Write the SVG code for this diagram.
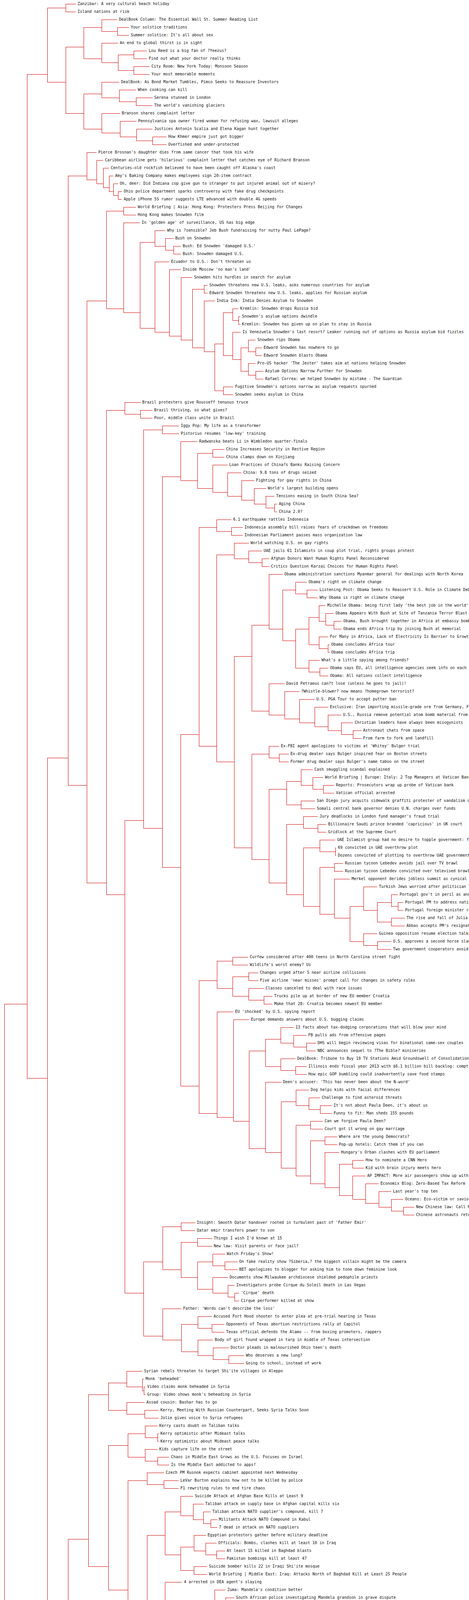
<svg xmlns="http://www.w3.org/2000/svg" width="1200" height="7340" viewBox="0 0 1200 7340">
<style>
.links path{fill:none;stroke:#cc0000;stroke-width:1}
text{font-family:"DejaVu Sans Mono","Liberation Mono",monospace;font-size:10px;fill:#111}
</style>
<rect width="1200" height="7340" fill="#fff"/>
<g id="links" class="links" shape-rendering="crispEdges">
<path d="M69,2570H11V6240H69"/>
<path d="M121,190H69V2760H121"/>
<path d="M168,20H121V210H168"/>
<path d="M194,10H168V30H194"/>
<path d="M214,120H168V290H214"/>
<path d="M260,70H214V150H260"/>
<path d="M300,50H260V80H300"/>
<path d="M330,70H300V90H330"/>
<path d="M302,110H260V160H302"/>
<path d="M342,140H302V180H342"/>
<path d="M376,130H342V150H376"/>
<path d="M383,170H342V190H383"/>
<path d="M260,240H214V330H260"/>
<path d="M305,210H260V250H305"/>
<path d="M348,230H305V260H348"/>
<path d="M390,250H348V270H390"/>
<path d="M307,290H260V340H307"/>
<path d="M349,310H307V350H349"/>
<path d="M390,330H349V360H390"/>
<path d="M426,350H390V370H426"/>
<path d="M174,1940H121V4320H174"/>
<path d="M222,450H174V2010H222"/>
<path d="M247,390H222V460H247"/>
<path d="M264,410H247V470H264"/>
<path d="M279,430H264V480H279"/>
<path d="M290,450H279V490H290"/>
<path d="M302,470H290V500H302"/>
<path d="M312,490H302V510H312"/>
<path d="M272,770H222V2260H272"/>
<path d="M316,540H272V790H316"/>
<path d="M348,530H316V550H348"/>
<path d="M358,570H316V800H358"/>
<path d="M396,620H358V840H396"/>
<path d="M423,590H396V630H423"/>
<path d="M444,610H423V640H444"/>
<path d="M463,630H444V650H463"/>
<path d="M433,670H396V850H433"/>
<path d="M463,690H433V860H463"/>
<path d="M492,710H463V870H492"/>
<path d="M522,740H492V890H522"/>
<path d="M531,730H522V750H531"/>
<path d="M549.5,770H522V900H549.5"/>
<path d="M571,880H549.5V1000H571"/>
<path d="M595,800H571V910H595"/>
<path d="M610,790H595V820H610"/>
<path d="M614.5,810H610V830H614.5"/>
<path d="M616,850H595V920H616"/>
<path d="M635,890H616V950H635"/>
<path d="M654,870H635V900H654"/>
<path d="M670,890H654V910H670"/>
<path d="M654,930H635V960H654"/>
<path d="M674,950H654V970H674"/>
<path d="M597,990H571V1010H597"/>
<path d="M319,1050H272V2290H319"/>
<path d="M359.5,1030H319V1060H359.5"/>
<path d="M390,1050H359.5V1070H390"/>
<path d="M367,2100H319V3310H367"/>
<path d="M415.5,1100H367V2120H415.5"/>
<path d="M458,1090H415.5V1110H458"/>
<path d="M462,1220H415.5V2220H462"/>
<path d="M505,1130H462V1230H505"/>
<path d="M544,1160H505V1250H544"/>
<path d="M574,1150H544V1170H574"/>
<path d="M582,1190H544V1260H582"/>
<path d="M618,1210H582V1270H618"/>
<path d="M650.5,1230H618V1280H650.5"/>
<path d="M680.5,1250H650.5V1290H680.5"/>
<path d="M702,1270H680.5V1300H702"/>
<path d="M709,1290H702V1310H709"/>
<path d="M509,1880H462V2780H509"/>
<path d="M554,1350H509V1910H554"/>
<path d="M592,1330H554V1360H592"/>
<path d="M621,1350H592V1370H621"/>
<path d="M599,1420H554V1950H599"/>
<path d="M636.5,1390H599V1430H636.5"/>
<path d="M670,1410H636.5V1440H670"/>
<path d="M689,1430H670V1450H689"/>
<path d="M644,1680H599V2170H644"/>
<path d="M688,1600H644V1820H688"/>
<path d="M723,1470H688V1610H723"/>
<path d="M756,1510H723V1640H756"/>
<path d="M785,1490H756V1520H785"/>
<path d="M813,1510H785V1530H813"/>
<path d="M790.5,1610H756V1710H790.5"/>
<path d="M816,1580H790.5V1650H816"/>
<path d="M833,1550H816V1590H833"/>
<path d="M854,1570H833V1600H854"/>
<path d="M874,1590H854V1610H874"/>
<path d="M839.5,1630H816V1660H839.5"/>
<path d="M843,1650H839.5V1670H843"/>
<path d="M818,1690H790.5V1720H818"/>
<path d="M840,1710H818V1730H840"/>
<path d="M728,1750H688V1830H728"/>
<path d="M766,1770H728V1840H766"/>
<path d="M805,1790H766V1850H805"/>
<path d="M839.5,1810H805V1860H839.5"/>
<path d="M873,1830H839.5V1870H873"/>
<path d="M903,1850H873V1880H903"/>
<path d="M924.5,1870H903V1890H924.5"/>
<path d="M688,1930H644V2200H688"/>
<path d="M714,1910H688V1940H714"/>
<path d="M738.5,1930H714V1950H738.5"/>
<path d="M733,2020H688V2260H733"/>
<path d="M770,2000H733V2060H770"/>
<path d="M800,1970H770V2010H800"/>
<path d="M827,1990H800V2020H827"/>
<path d="M855,2010H827V2030H855"/>
<path d="M806,2050H770V2070H806"/>
<path d="M776,2110H733V2290H776"/>
<path d="M813,2090H776V2120H813"/>
<path d="M835,2110H813V2130H835"/>
<path d="M818,2170H776V2320H818"/>
<path d="M858,2150H818V2180H858"/>
<path d="M860,2170H858V2190H860"/>
<path d="M855.5,2220H818V2340H855.5"/>
<path d="M878,2210H855.5V2230H878"/>
<path d="M895,2250H855.5V2350H895"/>
<path d="M930,2320H895V2410H930"/>
<path d="M965,2270H930V2330H965"/>
<path d="M1001,2310H965V2360H1001"/>
<path d="M1018,2290H1001V2320H1018"/>
<path d="M1032,2310H1018V2330H1032"/>
<path d="M1035.5,2350H1001V2370H1035.5"/>
<path d="M965,2390H930V2420H965"/>
<path d="M1001,2410H965V2430H1001"/>
<path d="M555,2510H509V2850H555"/>
<path d="M595,2460H555V2530H595"/>
<path d="M634.5,2450H595V2470H634.5"/>
<path d="M636,2500H595V2550H636"/>
<path d="M660.5,2490H636V2510H660.5"/>
<path d="M675,2530H636V2560H675"/>
<path d="M697,2550H675V2570H697"/>
<path d="M597,2590H555V2860H597"/>
<path d="M637.5,2610H597V2870H637.5"/>
<path d="M679,2690H637.5V2940H679"/>
<path d="M718,2660H679V2730H718"/>
<path d="M751.5,2630H718V2670H751.5"/>
<path d="M784,2650H751.5V2680H784"/>
<path d="M808,2670H784V2690H808"/>
<path d="M756,2710H718V2740H756"/>
<path d="M784.5,2730H756V2750H784.5"/>
<path d="M719.5,2770H679V2950H719.5"/>
<path d="M757,2820H719.5V2990H757"/>
<path d="M790.5,2790H757V2830H790.5"/>
<path d="M819,2810H790.5V2840H819"/>
<path d="M849,2830H819V2850H849"/>
<path d="M794,2880H757V3010H794"/>
<path d="M826,2870H794V2890H826"/>
<path d="M831,2920H794V3030H831"/>
<path d="M862.5,2910H831V2930H862.5"/>
<path d="M868,2950H831V3040H868"/>
<path d="M902,2980H868V3060H902"/>
<path d="M931,2970H902V2990H931"/>
<path d="M935,3010H902V3070H935"/>
<path d="M969,3030H935V3080H969"/>
<path d="M1001,3050H969V3090H1001"/>
<path d="M1032,3070H1001V3100H1032"/>
<path d="M1060,3090H1032V3110H1060"/>
<path d="M416,3230H367V3420H416"/>
<path d="M463,3140H416V3250H463"/>
<path d="M499,3130H463V3150H499"/>
<path d="M505,3180H463V3270H505"/>
<path d="M542.5,3170H505V3190H542.5"/>
<path d="M544,3230H505V3300H544"/>
<path d="M575.5,3210H544V3240H575.5"/>
<path d="M607.5,3230H575.5V3250H607.5"/>
<path d="M583,3270H544V3310H583"/>
<path d="M600,3290H583V3320H600"/>
<path d="M612,3310H600V3330H612"/>
<path d="M464,3350H416V3430H464"/>
<path d="M506,3390H464V3460H506"/>
<path d="M542,3370H506V3400H542"/>
<path d="M574,3390H542V3410H574"/>
<path d="M545,3430H506V3470H545"/>
<path d="M585.5,3450H545V3480H585.5"/>
<path d="M624.5,3470H585.5V3490H624.5"/>
<path d="M226.5,3940H174V4760H226.5"/>
<path d="M277,3570H226.5V4010H277"/>
<path d="M324.5,3540H277V3610H324.5"/>
<path d="M364,3510H324.5V3550H364"/>
<path d="M368,3530H364V3560H368"/>
<path d="M372,3550H368V3570H372"/>
<path d="M370,3590H324.5V3620H370"/>
<path d="M406,3610H370V3630H406"/>
<path d="M327.5,3700H277V4070H327.5"/>
<path d="M371,3670H327.5V3730H371"/>
<path d="M403,3650H371V3680H403"/>
<path d="M406,3670H403V3690H406"/>
<path d="M403,3710H371V3740H403"/>
<path d="M433,3730H403V3750H433"/>
<path d="M376.5,3790H327.5V4100H376.5"/>
<path d="M419.5,3770H376.5V3800H419.5"/>
<path d="M457,3790H419.5V3810H457"/>
<path d="M422.5,3930H376.5V4210H422.5"/>
<path d="M462,3870H422.5V3980H462"/>
<path d="M494,3830H462V3880H494"/>
<path d="M520.5,3850H494V3890H520.5"/>
<path d="M539,3870H520.5V3900H539"/>
<path d="M555.5,3890H539V3910H555.5"/>
<path d="M496,3960H462V4020H496"/>
<path d="M526.5,3930H496V3970H526.5"/>
<path d="M554,3950H526.5V3980H554"/>
<path d="M575.5,3970H554V3990H575.5"/>
<path d="M530,4010H496V4030H530"/>
<path d="M466,4050H422.5V4220H466"/>
<path d="M509,4150H466V4310H509"/>
<path d="M549.5,4100H509V4190H549.5"/>
<path d="M577,4070H549.5V4110H577"/>
<path d="M599,4090H577V4120H599"/>
<path d="M622,4110H599V4130H622"/>
<path d="M591.5,4160H549.5V4210H591.5"/>
<path d="M625,4150H591.5V4170H625"/>
<path d="M630.5,4190H591.5V4220H630.5"/>
<path d="M640,4210H630.5V4230H640"/>
<path d="M552.5,4250H509V4320H552.5"/>
<path d="M591.5,4270H552.5V4330H591.5"/>
<path d="M629,4300H591.5V4350H629"/>
<path d="M634,4290H629V4310H634"/>
<path d="M661,4330H629V4360H661"/>
<path d="M691,4350H661V4370H691"/>
<path d="M277,4430H226.5V4810H277"/>
<path d="M324,4410H277V4460H324"/>
<path d="M360,4390H324V4420H360"/>
<path d="M396.5,4410H360V4430H396.5"/>
<path d="M368,4450H324V4470H368"/>
<path d="M327,4510H277V4840H327"/>
<path d="M370.5,4490H327V4520H370.5"/>
<path d="M372,4510H370.5V4530H372"/>
<path d="M374,4550H327V4850H374"/>
<path d="M419.5,4570H374V4860H419.5"/>
<path d="M464.5,4590H419.5V4870H464.5"/>
<path d="M506,4650H464.5V4920H506"/>
<path d="M543.5,4610H506V4660H543.5"/>
<path d="M580,4630H543.5V4670H580"/>
<path d="M607.5,4650H580V4680H607.5"/>
<path d="M631.5,4670H607.5V4690H631.5"/>
<path d="M549,4730H506V4950H549"/>
<path d="M580,4710H549V4740H580"/>
<path d="M609,4730H580V4750H609"/>
<path d="M587,4770H549V4960H587"/>
<path d="M626,4800H587V4980H626"/>
<path d="M658,4790H626V4810H658"/>
<path d="M663,4870H626V5030H663"/>
<path d="M701,4840H663V4890H701"/>
<path d="M703,4830H701V4850H703"/>
<path d="M735,4870H701V4900H735"/>
<path d="M769,4890H735V4910H769"/>
<path d="M701,4930H663V5040H701"/>
<path d="M736,4950H701V5050H736"/>
<path d="M771,4980H736V5070H771"/>
<path d="M804,4970H771V4990H804"/>
<path d="M808,5020H771V5090H808"/>
<path d="M840,5010H808V5030H840"/>
<path d="M844.5,5050H808V5100H844.5"/>
<path d="M878.5,5080H844.5V5120H878.5"/>
<path d="M905,5070H878.5V5090H905"/>
<path d="M912,5110H878.5V5130H912"/>
<path d="M124,5560H69V6660H124"/>
<path d="M177,5490H124V5910H177"/>
<path d="M228,5190H177V5540H228"/>
<path d="M279,5150H228V5200H279"/>
<path d="M314,5180H279V5220H314"/>
<path d="M315,5170H314V5190H315"/>
<path d="M341,5210H314V5230H341"/>
<path d="M279,5400H228V5700H279"/>
<path d="M319,5250H279V5410H319"/>
<path d="M357.5,5270H319V5420H357.5"/>
<path d="M392.5,5290H357.5V5430H392.5"/>
<path d="M421.5,5310H392.5V5440H421.5"/>
<path d="M450,5330H421.5V5450H450"/>
<path d="M475,5380H450V5490H475"/>
<path d="M506,5360H475V5400H506"/>
<path d="M530,5350H506V5370H530"/>
<path d="M533.5,5390H506V5410H533.5"/>
<path d="M506,5440H475V5510H506"/>
<path d="M532,5430H506V5450H532"/>
<path d="M533.5,5480H506V5530H533.5"/>
<path d="M556.5,5470H533.5V5490H556.5"/>
<path d="M559,5510H533.5V5540H559"/>
<path d="M579,5530H559V5550H579"/>
<path d="M329,5590H279V5730H329"/>
<path d="M372,5570H329V5600H372"/>
<path d="M404,5590H372V5610H404"/>
<path d="M377,5690H329V5800H377"/>
<path d="M416,5650H377V5720H416"/>
<path d="M450,5630H416V5660H450"/>
<path d="M479,5650H450V5670H479"/>
<path d="M451.5,5690H416V5720H451.5"/>
<path d="M481,5710H451.5V5740H481"/>
<path d="M507.5,5730H481V5750H507.5"/>
<path d="M420,5770H377V5810H420"/>
<path d="M444.5,5790H420V5820H444.5"/>
<path d="M460,5810H444.5V5830H460"/>
<path d="M229.5,5860H177V5930H229.5"/>
<path d="M266,5850H229.5V5870H266"/>
<path d="M277,5900H229.5V5950H277"/>
<path d="M281,5890H277V5910H281"/>
<path d="M316,5930H277V5960H316"/>
<path d="M347,5950H316V5970H347"/>
<path d="M178,6170H124V6850H178"/>
<path d="M231,6010H178V6200H231"/>
<path d="M266,5990H231V6020H266"/>
<path d="M285.5,6010H266V6030H285.5"/>
<path d="M283,6070H231V6230H283"/>
<path d="M328,6050H283V6080H328"/>
<path d="M356.5,6070H328V6090H356.5"/>
<path d="M333,6140H283V6270H333"/>
<path d="M375,6120H333V6160H375"/>
<path d="M377,6110H375V6130H377"/>
<path d="M417,6150H375V6170H417"/>
<path d="M381,6200H333V6290H381"/>
<path d="M421,6190H381V6210H421"/>
<path d="M425.5,6240H381V6310H425.5"/>
<path d="M461.5,6230H425.5V6250H461.5"/>
<path d="M469,6270H425.5V6320H469"/>
<path d="M510,6290H469V6330H510"/>
<path d="M546.5,6310H510V6340H546.5"/>
<path d="M580,6330H546.5V6350H580"/>
<path d="M232,6440H178V6930H232"/>
<path d="M256.5,6370H232V6450H256.5"/>
<path d="M268,6390H256.5V6460H268"/>
<path d="M278,6420H268V6480H278"/>
<path d="M281.5,6410H278V6430H281.5"/>
<path d="M285,6460H278V6500H285"/>
<path d="M288.5,6450H285V6470H288.5"/>
<path d="M288.5,6490H285V6510H288.5"/>
<path d="M282.5,6600H232V7010H282.5"/>
<path d="M322,6560H282.5V6640H322"/>
<path d="M350.5,6540H322V6580H350.5"/>
<path d="M376.5,6530H350.5V6550H376.5"/>
<path d="M378,6570H350.5V6590H378"/>
<path d="M358,6610H322V6650H358"/>
<path d="M390,6630H358V6660H390"/>
<path d="M410,6650H390V6670H410"/>
<path d="M332,6900H282.5V7230H332"/>
<path d="M379.5,6710H332V6930H379.5"/>
<path d="M412,6690H379.5V6720H412"/>
<path d="M436,6710H412V6730H436"/>
<path d="M424,6770H379.5V6960H424"/>
<path d="M466,6750H424V6780H466"/>
<path d="M506,6770H466V6790H506"/>
<path d="M469,6830H424V6990H469"/>
<path d="M512.5,6810H469V6840H512.5"/>
<path d="M546.5,6830H512.5V6850H546.5"/>
<path d="M512,6880H469V7010H512"/>
<path d="M552.5,6870H512V6890H552.5"/>
<path d="M555,6970H512V7080H555"/>
<path d="M597,6930H555V7000H597"/>
<path d="M601.5,6910H597V6940H601.5"/>
<path d="M603,6930H601.5V6950H603"/>
<path d="M636,6970H597V7010H636"/>
<path d="M671,6990H636V7020H671"/>
<path d="M674,7010H671V7030H674"/>
<path d="M598.5,7050H555V7090H598.5"/>
<path d="M617.5,7070H598.5V7100H617.5"/>
<path d="M633,7090H617.5V7110H633"/>
<path d="M382,7180H332V7290H382"/>
<path d="M420,7130H382V7190H420"/>
<path d="M447,7150H420V7200H447"/>
<path d="M471.5,7170H447V7210H471.5"/>
<path d="M495,7190H471.5V7220H495"/>
<path d="M518,7210H495V7230H518"/>
<path d="M431,7260H382V7310H431"/>
<path d="M475,7250H431V7270H475"/>
<path d="M478,7290H431V7320H478"/>
<path d="M500,7310H478V7330H500"/>
</g>
<g id="nodes">
<g id="n0"><text x="198.5" y="12.5">Zanzibar: A very cultural beach holiday</text></g>
<g id="n1"><text x="198.5" y="32.5">Island nations at risk</text></g>
<g id="n2"><text x="304.5" y="52.5">DealBook Column: The Essential Wall St. Summer Reading List</text></g>
<g id="n3"><text x="334.5" y="72.5">Your solstice traditions</text></g>
<g id="n4"><text x="334.5" y="92.5">Summer solstice: It's all about sex</text></g>
<g id="n5"><text x="306.5" y="112.5">An end to global thirst is in sight</text></g>
<g id="n6"><text x="380.5" y="132.5">Lou Reed is a big fan of ?Yeezus?</text></g>
<g id="n7"><text x="380.5" y="152.5">Find out what your doctor really thinks</text></g>
<g id="n8"><text x="387.5" y="172.5">City Room: New York Today: Monsoon Season</text></g>
<g id="n9"><text x="387.5" y="192.5">Your most memorable moments</text></g>
<g id="n10"><text x="309.5" y="212.5">DealBook: As Bond Market Tumbles, Pimco Seeks to Reassure Investors</text></g>
<g id="n11"><text x="352.5" y="232.5">When cooking can kill</text></g>
<g id="n12"><text x="394.5" y="252.5">Serena stunned in London</text></g>
<g id="n13"><text x="394.5" y="272.5">The world's vanishing glaciers</text></g>
<g id="n14"><text x="311.5" y="292.5">Branson shares complaint letter</text></g>
<g id="n15"><text x="353.5" y="312.5">Pennsylvania spa owner fired woman for refusing wax, lawsuit alleges</text></g>
<g id="n16"><text x="394.5" y="332.5">Justices Antonin Scalia and Elena Kagan hunt together</text></g>
<g id="n17"><text x="430.5" y="352.5">How Khmer empire just got bigger</text></g>
<g id="n18"><text x="430.5" y="372.5">Overfished and under-protected</text></g>
<g id="n19"><text x="251.5" y="392.5">Pierce Brosnan's daughter dies from same cancer that took his wife</text></g>
<g id="n20"><text x="268.5" y="412.5">Caribbean airline gets 'hilarious' complaint letter that catches eye of Richard Branson</text></g>
<g id="n21"><text x="283.5" y="432.5">Centuries-old rockfish believed to have been caught off Alaska's coast</text></g>
<g id="n22"><text x="294.5" y="452.5">Amy's Baking Company makes employees sign 20-item contract</text></g>
<g id="n23"><text x="306.5" y="472.5">Oh, deer: Did Indiana cop give gun to stranger to put injured animal out of misery?</text></g>
<g id="n24"><text x="316.5" y="492.5">Ohio police department sparks controversy with fake drug checkpoints</text></g>
<g id="n25"><text x="316.5" y="512.5">Apple iPhone 5S rumor suggests LTE advanced with double 4G speeds</text></g>
<g id="n26"><text x="352.5" y="532.5">World Briefing | Asia: Hong Kong: Protesters Press Beijing for Changes</text></g>
<g id="n27"><text x="352.5" y="552.5">Hong Kong makes Snowden film</text></g>
<g id="n28"><text x="362.5" y="572.5">In 'golden age' of surveillance, US has big edge</text></g>
<g id="n29"><text x="427.5" y="592.5">Why is ?sensible? Jeb Bush fundraising for nutty Paul LePage?</text></g>
<g id="n30"><text x="448.5" y="612.5">Bush on Snowden</text></g>
<g id="n31"><text x="467.5" y="632.5">Bush: Ed Snowden 'damaged U.S.'</text></g>
<g id="n32"><text x="467.5" y="652.5">Bush: Snowden damaged U.S.</text></g>
<g id="n33"><text x="437.5" y="672.5">Ecuador to U.S.: Don't threaten us</text></g>
<g id="n34"><text x="467.5" y="692.5">Inside Moscow 'no man's land'</text></g>
<g id="n35"><text x="496.5" y="712.5">Snowden hits hurdles in search for asylum</text></g>
<g id="n36"><text x="535.5" y="732.5">Snowden threatens new U.S. leaks, asks numerous countries for asylum</text></g>
<g id="n37"><text x="535.5" y="752.5">Edward Snowden threatens new U.S. leaks, applies for Russian asylum</text></g>
<g id="n38"><text x="554" y="772.5">India Ink: India Denies Asylum to Snowden</text></g>
<g id="n39"><text x="614.5" y="792.5">Kremlin: Snowden drops Russia bid</text></g>
<g id="n40"><text x="619" y="812.5">Snowden's asylum options dwindle</text></g>
<g id="n41"><text x="619" y="832.5">Kremlin: Snowden has given up on plan to stay in Russia</text></g>
<g id="n42"><text x="620.5" y="852.5">Is Venezuela Snowden's last resort? Leaker running out of options as Russia asylum bid fizzles</text></g>
<g id="n43"><text x="658.5" y="872.5">Snowden rips Obama</text></g>
<g id="n44"><text x="674.5" y="892.5">Edward Snowden has nowhere to go</text></g>
<g id="n45"><text x="674.5" y="912.5">Edward Snowden blasts Obama</text></g>
<g id="n46"><text x="658.5" y="932.5">Pro-US hacker 'The Jester' takes aim at nations helping Snowden</text></g>
<g id="n47"><text x="678.5" y="952.5">Asylum Options Narrow Further for Snowden</text></g>
<g id="n48"><text x="678.5" y="972.5">Rafael Correa: we helped Snowden by mistake - The Guardian</text></g>
<g id="n49"><text x="601.5" y="992.5">Fugitive Snowden's options narrow as asylum requests spurned</text></g>
<g id="n50"><text x="601.5" y="1012.5">Snowden seeks asylum in China</text></g>
<g id="n51"><text x="364" y="1032.5">Brazil protesters give Rousseff tenuous truce</text></g>
<g id="n52"><text x="394.5" y="1052.5">Brazil thriving, so what gives?</text></g>
<g id="n53"><text x="394.5" y="1072.5">Poor, middle class unite in Brazil</text></g>
<g id="n54"><text x="462.5" y="1092.5">Iggy Pop: My life as a transformer</text></g>
<g id="n55"><text x="462.5" y="1112.5">Pistorius resumes 'low-key' training</text></g>
<g id="n56"><text x="509.5" y="1132.5">Radwanska beats Li in Wimbledon quarter-finals</text></g>
<g id="n57"><text x="578.5" y="1152.5">China Increases Security in Restive Region</text></g>
<g id="n58"><text x="578.5" y="1172.5">China clamps down on Xinjiang</text></g>
<g id="n59"><text x="586.5" y="1192.5">Loan Practices of China?s Banks Raising Concern</text></g>
<g id="n60"><text x="622.5" y="1212.5">China: 9.8 tons of drugs seized</text></g>
<g id="n61"><text x="655" y="1232.5">Fighting for gay rights in China</text></g>
<g id="n62"><text x="685" y="1252.5">World's largest building opens</text></g>
<g id="n63"><text x="706.5" y="1272.5">Tensions easing in South China Sea?</text></g>
<g id="n64"><text x="713.5" y="1292.5">Aging China</text></g>
<g id="n65"><text x="713.5" y="1312.5">China 2.0?</text></g>
<g id="n66"><text x="596.5" y="1332.5">6.1 earthquake rattles Indonesia</text></g>
<g id="n67"><text x="625.5" y="1352.5">Indonesia assembly bill raises fears of crackdown on freedoms</text></g>
<g id="n68"><text x="625.5" y="1372.5">Indonesian Parliament passes mass organization law</text></g>
<g id="n69"><text x="641" y="1392.5">World watching U.S. on gay rights</text></g>
<g id="n70"><text x="674.5" y="1412.5">UAE jails 61 Islamists in coup plot trial, rights groups protest</text></g>
<g id="n71"><text x="693.5" y="1432.5">Afghan Donors Want Human Rights Panel Reconsidered</text></g>
<g id="n72"><text x="693.5" y="1452.5">Critics Question Karzai Choices for Human Rights Panel</text></g>
<g id="n73"><text x="727.5" y="1472.5">Obama administration sanctions Myanmar general for dealings with North Korea</text></g>
<g id="n74"><text x="789.5" y="1492.5">Obama's right on climate change</text></g>
<g id="n75"><text x="817.5" y="1512.5">Listening Post: Obama Seeks to Reassert U.S. Role in Climate Debate</text></g>
<g id="n76"><text x="817.5" y="1532.5">Why Obama is right on climate change</text></g>
<g id="n77"><text x="837.5" y="1552.5">Michelle Obama: being first lady 'the best job in the world'</text></g>
<g id="n78"><text x="858.5" y="1572.5">Obama Appears With Bush at Site of Tanzania Terror Blast</text></g>
<g id="n79"><text x="878.5" y="1592.5">Obama, Bush brought together in Africa at embassy bombing memorial</text></g>
<g id="n80"><text x="878.5" y="1612.5">Obama ends Africa trip by joining Bush at memorial</text></g>
<g id="n81"><text x="844" y="1632.5">For Many in Africa, Lack of Electricity Is Barrier to Growth</text></g>
<g id="n82"><text x="847.5" y="1652.5">Obama concludes Africa tour</text></g>
<g id="n83"><text x="847.5" y="1672.5">Obama concludes Africa trip</text></g>
<g id="n84"><text x="822.5" y="1692.5">What's a little spying among friends?</text></g>
<g id="n85"><text x="844.5" y="1712.5">Obama says EU, all intelligence agencies seek info on each other</text></g>
<g id="n86"><text x="844.5" y="1732.5">Obama: All nations collect intelligence</text></g>
<g id="n87"><text x="732.5" y="1752.5">David Petraeus can?t lose (unless he goes to jail)!</text></g>
<g id="n88"><text x="770.5" y="1772.5">?Whistle-blower? now means ?homegrown terrorist?</text></g>
<g id="n89"><text x="809.5" y="1792.5">U.S. PGA Tour to accept putter ban</text></g>
<g id="n90"><text x="844" y="1812.5">Exclusive: Iran importing missile-grade ore from Germany, France</text></g>
<g id="n91"><text x="877.5" y="1832.5">U.S., Russia remove potential atom bomb material from Japan</text></g>
<g id="n92"><text x="907.5" y="1852.5">Christian leaders have always been misogynists</text></g>
<g id="n93"><text x="929" y="1872.5">Astronaut chats from space</text></g>
<g id="n94"><text x="929" y="1892.5">From farm to fork and landfill</text></g>
<g id="n95"><text x="718.5" y="1912.5">Ex-FBI agent apologizes to victims at 'Whitey' Bulger trial</text></g>
<g id="n96"><text x="743" y="1932.5">Ex-drug dealer says Bulger inspired fear on Boston streets</text></g>
<g id="n97"><text x="743" y="1952.5">Former drug dealer says Bulger's name taboo on the street</text></g>
<g id="n98"><text x="804.5" y="1972.5">Cash smuggling scandal explained</text></g>
<g id="n99"><text x="831.5" y="1992.5">World Briefing | Europe: Italy: 2 Top Managers at Vatican Bank Resign</text></g>
<g id="n100"><text x="859.5" y="2012.5">Reports: Prosecutors wrap up probe of Vatican bank</text></g>
<g id="n101"><text x="859.5" y="2032.5">Vatican official arrested</text></g>
<g id="n102"><text x="810.5" y="2052.5">San Diego jury acquits sidewalk graffiti protester of vandalism charges</text></g>
<g id="n103"><text x="810.5" y="2072.5">Somali central bank governor denies U.N. charges over funds</text></g>
<g id="n104"><text x="817.5" y="2092.5">Jury deadlocks in London fund manager's fraud trial</text></g>
<g id="n105"><text x="839.5" y="2112.5">Billionaire Saudi prince branded 'capricious' in UK court</text></g>
<g id="n106"><text x="839.5" y="2132.5">Gridlock at the Supreme Court</text></g>
<g id="n107"><text x="862.5" y="2152.5">UAE Islamist group had no desire to topple government: family</text></g>
<g id="n108"><text x="864.5" y="2172.5">69 convicted in UAE overthrow plot</text></g>
<g id="n109"><text x="864.5" y="2192.5">Dozens convicted of plotting to overthrow UAE government</text></g>
<g id="n110"><text x="882.5" y="2212.5">Russian tycoon Lebedev avoids jail over TV brawl</text></g>
<g id="n111"><text x="882.5" y="2232.5">Russian tycoon Lebedev convicted over televised brawl</text></g>
<g id="n112"><text x="899.5" y="2252.5">Merkel opponent derides jobless summit as cynical ploy</text></g>
<g id="n113"><text x="969.5" y="2272.5">Turkish Jews worried after politician links them to protests</text></g>
<g id="n114"><text x="1022.5" y="2292.5">Portugal gov't in peril as another minister quits</text></g>
<g id="n115"><text x="1036.5" y="2312.5">Portugal PM to address nation</text></g>
<g id="n116"><text x="1036.5" y="2332.5">Portugal foreign minister resigns</text></g>
<g id="n117"><text x="1040" y="2352.5">The rise and fall of Julia Gillard</text></g>
<g id="n118"><text x="1040" y="2372.5">Abbas accepts PM's resignation</text></g>
<g id="n119"><text x="969.5" y="2392.5">Guinea opposition resume election talks</text></g>
<g id="n120"><text x="1005.5" y="2412.5">U.S. approves a second horse slaughterhouse</text></g>
<g id="n121"><text x="1005.5" y="2432.5">Two government cooperators avoid prison</text></g>
<g id="n122"><text x="639" y="2452.5">Curfew considered after 400 teens in North Carolina street fight</text></g>
<g id="n123"><text x="639" y="2472.5">Wildlife's worst enemy? Us</text></g>
<g id="n124"><text x="665" y="2492.5">Changes urged after 5 near airline collisions</text></g>
<g id="n125"><text x="665" y="2512.5">Five airline 'near misses' prompt call for changes in safety rules</text></g>
<g id="n126"><text x="679.5" y="2532.5">Classes canceled to deal with race issues</text></g>
<g id="n127"><text x="701.5" y="2552.5">Trucks pile up at border of new EU member Croatia</text></g>
<g id="n128"><text x="701.5" y="2572.5">Make that 28: Croatia becomes newest EU member</text></g>
<g id="n129"><text x="601.5" y="2592.5">EU 'shocked' by U.S. spying report</text></g>
<g id="n130"><text x="642" y="2612.5">Europe demands answers about U.S. bugging claims</text></g>
<g id="n131"><text x="756" y="2632.5">13 facts about tax-dodging corporations that will blow your mind</text></g>
<g id="n132"><text x="788.5" y="2652.5">FB pulls ads from offensive pages</text></g>
<g id="n133"><text x="812.5" y="2672.5">DHS will begin reviewing visas for binational same-sex couples</text></g>
<g id="n134"><text x="812.5" y="2692.5">NBC announces sequel to ?The Bible? miniseries</text></g>
<g id="n135"><text x="760.5" y="2712.5">DealBook: Tribune to Buy 19 TV Stations Amid Groundswell of Consolidation</text></g>
<g id="n136"><text x="789" y="2732.5">Illinois ends fiscal year 2013 with $6.1 billion bill backlog: comptroller</text></g>
<g id="n137"><text x="789" y="2752.5">How epic GOP bumbling could inadvertently save food stamps</text></g>
<g id="n138"><text x="724" y="2772.5">Deen's accuser: 'This has never been about the N-word'</text></g>
<g id="n139"><text x="795" y="2792.5">Dog helps kids with facial differences</text></g>
<g id="n140"><text x="823.5" y="2812.5">Challenge to find asteroid threats</text></g>
<g id="n141"><text x="853.5" y="2832.5">It's not about Paula Deen, it's about us</text></g>
<g id="n142"><text x="853.5" y="2852.5">Funny to fit: Man sheds 155 pounds</text></g>
<g id="n143"><text x="830.5" y="2872.5">Can we forgive Paula Deen?</text></g>
<g id="n144"><text x="830.5" y="2892.5">Court got it wrong on gay marriage</text></g>
<g id="n145"><text x="867" y="2912.5">Where are the young Democrats?</text></g>
<g id="n146"><text x="867" y="2932.5">Pop-up hotels: Catch them if you can</text></g>
<g id="n147"><text x="872.5" y="2952.5">Hungary's Orban clashes with EU parliament</text></g>
<g id="n148"><text x="935.5" y="2972.5">How to nominate a CNN Hero</text></g>
<g id="n149"><text x="935.5" y="2992.5">Kid with brain injury meets hero</text></g>
<g id="n150"><text x="939.5" y="3012.5">AP IMPACT: More air passengers show up with guns</text></g>
<g id="n151"><text x="973.5" y="3032.5">Economix Blog: Zero-Based Tax Reform</text></g>
<g id="n152"><text x="1005.5" y="3052.5">Last year's top ten</text></g>
<g id="n153"><text x="1036.5" y="3072.5">Oceans: Eco-victim or savior?</text></g>
<g id="n154"><text x="1064.5" y="3092.5">New Chinese law: Call Mom</text></g>
<g id="n155"><text x="1064.5" y="3112.5">Chinese astronauts return to Earth</text></g>
<g id="n156"><text x="503.5" y="3132.5">Insight: Smooth Qatar handover rooted in turbulent past of 'Father Emir'</text></g>
<g id="n157"><text x="503.5" y="3152.5">Qatar emir transfers power to son</text></g>
<g id="n158"><text x="547" y="3172.5">Things I wish I'd known at 15</text></g>
<g id="n159"><text x="547" y="3192.5">New law: Visit parents or face jail?</text></g>
<g id="n160"><text x="580" y="3212.5">Watch Friday's Show!</text></g>
<g id="n161"><text x="612" y="3232.5">On fake reality show ?Siberia,? the biggest villain might be the camera</text></g>
<g id="n162"><text x="612" y="3252.5">BET apologizes to blogger for asking him to tone down feminine look</text></g>
<g id="n163"><text x="587.5" y="3272.5">Documents show Milwaukee archdiocese shielded pedophile priests</text></g>
<g id="n164"><text x="604.5" y="3292.5">Investigators probe Cirque du Soleil death in Las Vegas</text></g>
<g id="n165"><text x="616.5" y="3312.5">'Cirque' death</text></g>
<g id="n166"><text x="616.5" y="3332.5">Cirque performer killed at show</text></g>
<g id="n167"><text x="468.5" y="3352.5">Father: 'Words can't describe the loss'</text></g>
<g id="n168"><text x="546.5" y="3372.5">Accused Fort Hood shooter to enter plea at pre-trial hearing in Texas</text></g>
<g id="n169"><text x="578.5" y="3392.5">Opponents of Texas abortion restrictions rally at Capitol</text></g>
<g id="n170"><text x="578.5" y="3412.5">Texas official defends the Alamo -- from boxing promoters, rappers</text></g>
<g id="n171"><text x="549.5" y="3432.5">Body of girl found wrapped in tarp in middle of Texas intersection</text></g>
<g id="n172"><text x="590" y="3452.5">Doctor pleads in malnourished Ohio teen's death</text></g>
<g id="n173"><text x="629" y="3472.5">Who deserves a new lung?</text></g>
<g id="n174"><text x="629" y="3492.5">Going to school, instead of work</text></g>
<g id="n175"><text x="368.5" y="3512.5">Syrian rebels threaten to target Shi'ite villages in Aleppo</text></g>
<g id="n176"><text x="372.5" y="3532.5">Monk 'beheaded'</text></g>
<g id="n177"><text x="376.5" y="3552.5">Video claims monk beheaded in Syria</text></g>
<g id="n178"><text x="376.5" y="3572.5">Group: Video shows monk's beheading in Syria</text></g>
<g id="n179"><text x="374.5" y="3592.5">Assad cousin: Bashar has to go</text></g>
<g id="n180"><text x="410.5" y="3612.5">Kerry, Meeting With Russian Counterpart, Seeks Syria Talks Soon</text></g>
<g id="n181"><text x="410.5" y="3632.5">Jolie gives voice to Syria refugees</text></g>
<g id="n182"><text x="407.5" y="3652.5">Kerry casts doubt on Taliban talks</text></g>
<g id="n183"><text x="410.5" y="3672.5">Kerry optimistic after Mideast talks</text></g>
<g id="n184"><text x="410.5" y="3692.5">Kerry optimistic about Mideast peace talks</text></g>
<g id="n185"><text x="407.5" y="3712.5">Kids capture life on the street</text></g>
<g id="n186"><text x="437.5" y="3732.5">Chaos in Middle East Grows as the U.S. Focuses on Israel</text></g>
<g id="n187"><text x="437.5" y="3752.5">Is the Middle East addicted to apps?</text></g>
<g id="n188"><text x="424" y="3772.5">Czech PM Rusnok expects cabinet appointed next Wednesday</text></g>
<g id="n189"><text x="461.5" y="3792.5">LeVar Burton explains how not to be killed by police</text></g>
<g id="n190"><text x="461.5" y="3812.5">F1 rewriting rules to end tire chaos</text></g>
<g id="n191"><text x="498.5" y="3832.5">Suicide Attack at Afghan Base Kills at Least 9</text></g>
<g id="n192"><text x="525" y="3852.5">Taliban attack on supply base in Afghan capital kills six</text></g>
<g id="n193"><text x="543.5" y="3872.5">Taliban attack NATO supplier's compound, kill 7</text></g>
<g id="n194"><text x="560" y="3892.5">Militants Attack NATO Compound in Kabul</text></g>
<g id="n195"><text x="560" y="3912.5">7 dead in attack on NATO suppliers</text></g>
<g id="n196"><text x="531" y="3932.5">Egyptian protestors gather before military deadline</text></g>
<g id="n197"><text x="558.5" y="3952.5">Officials: Bombs, clashes kill at least 10 in Iraq</text></g>
<g id="n198"><text x="580" y="3972.5">At least 15 killed in Baghdad blasts</text></g>
<g id="n199"><text x="580" y="3992.5">Pakistan bombings kill at least 47</text></g>
<g id="n200"><text x="534.5" y="4012.5">Suicide bomber kills 22 in Iraqi Shi'ite mosque</text></g>
<g id="n201"><text x="534.5" y="4032.5">World Briefing | Middle East: Iraq: Attacks North of Baghdad Kill at Least 25 People</text></g>
<g id="n202"><text x="470.5" y="4052.5">4 arrested in DEA agent's slaying</text></g>
<g id="n203"><text x="581.5" y="4072.5">Zuma: Mandela's condition better</text></g>
<g id="n204"><text x="603.5" y="4092.5">South African police investigating Mandela grandson in grave dispute</text></g>
<g id="n205"><text x="626.5" y="4112.5">South Africa's Mandela still 'critical but stable'</text></g>
<g id="n206"><text x="626.5" y="4132.5">Former South African President De Klerk Hospitalized</text></g>
<g id="n207"><text x="629.5" y="4152.5">Princess Fawzia, Shah's first wife, dies in Egypt</text></g>
<g id="n208"><text x="629.5" y="4172.5">My late wife is thanking you, too</text></g>
<g id="n209"><text x="635" y="4192.5">Protesters angered by rape, storm police HQ in Ukrainian town</text></g>
<g id="n210"><text x="644.5" y="4212.5">California police officer seen in video shooting dog who lunged during master's arrest</text></g>
<g id="n211"><text x="644.5" y="4232.5">Calif. police kill dog in videotaped shooting</text></g>
<g id="n212"><text x="557" y="4252.5">South Korean Executive?s Arrest Seen as Move to Tame Conglomerates</text></g>
<g id="n213"><text x="596" y="4272.5">Four women in South Africa brothel allegedly used chickens' stench to cover up smell of drugs</text></g>
<g id="n214"><text x="638.5" y="4292.5">Sex trafficking bust rescues 46</text></g>
<g id="n215"><text x="638.5" y="4312.5">46 women rescued in sex trafficking bust</text></g>
<g id="n216"><text x="665.5" y="4332.5">Drug overdose deaths spike among middle-aged women</text></g>
<g id="n217"><text x="695.5" y="4352.5">Women Hit Hard in Rising Toll From Painkiller Overdoses</text></g>
<g id="n218"><text x="695.5" y="4372.5">Why doesn't Hollywood trust women?</text></g>
<g id="n219"><text x="364.5" y="4392.5">House Dems seek path to final immigration deal</text></g>
<g id="n220"><text x="401" y="4412.5">G.O.P. Groups Offering Cover for Lawmakers on Immigration</text></g>
<g id="n221"><text x="401" y="4432.5">On immigration, GOP offers fear</text></g>
<g id="n222"><text x="372.5" y="4452.5">Japan two-party politics in doubt as drubbing of Democrats looms</text></g>
<g id="n223"><text x="372.5" y="4472.5">Firefox enters the smartphone fray</text></g>
<g id="n224"><text x="375" y="4492.5">US factory orders rise 2.1 percent in May</text></g>
<g id="n225"><text x="376.5" y="4512.5">Lawsuit: End forced feedings at Gitmo</text></g>
<g id="n226"><text x="376.5" y="4532.5">Gitmo lawsuit: End forced feedings</text></g>
<g id="n227"><text x="378.5" y="4552.5">Ex-child bride: School changes lives</text></g>
<g id="n228"><text x="424" y="4572.5">Troubled youth run 'old skool' bistro</text></g>
<g id="n229"><text x="469" y="4592.5">With Fewer Stars at Yankee Stadium, Fewer Fans Are Watching</text></g>
<g id="n230"><text x="548" y="4612.5">Fighting for the 'throwaway' girls</text></g>
<g id="n231"><text x="584.5" y="4632.5">Girls flee war, find 'worse' in camp</text></g>
<g id="n232"><text x="612" y="4652.5">Photos: Beyonc? rocks for girls education</text></g>
<g id="n233"><text x="636" y="4672.5">Impact Your World: How to help</text></g>
<g id="n234"><text x="636" y="4692.5">Girls, it's time to power the world</text></g>
<g id="n235"><text x="584.5" y="4712.5">Gordon Brown on Malala's friend</text></g>
<g id="n236"><text x="613.5" y="4732.5">Malala's friend reunites with her</text></g>
<g id="n237"><text x="613.5" y="4752.5">Malala's voice stronger, not silenced</text></g>
<g id="n238"><text x="591.5" y="4772.5">Is it fate? Dog links 2 wounded vets</text></g>
<g id="n239"><text x="662.5" y="4792.5">French political scandals hit left and right</text></g>
<g id="n240"><text x="662.5" y="4812.5">Crash gives Aussie a French accent</text></g>
<g id="n241"><text x="707.5" y="4832.5">Apple files for 'iWatch' trademark</text></g>
<g id="n242"><text x="707.5" y="4852.5">iWatch</text></g>
<g id="n243"><text x="739.5" y="4872.5">Anemic data raises growth fears</text></g>
<g id="n244"><text x="773.5" y="4892.5">Demand for big pickup trucks fuels June U.S. auto sales</text></g>
<g id="n245"><text x="773.5" y="4912.5">Can you pass the Newsquiz?</text></g>
<g id="n246"><text x="705.5" y="4932.5">Would you like fries with that $3,600?</text></g>
<g id="n247"><text x="740.5" y="4952.5">Opinion: Rage must lead to game plan</text></g>
<g id="n248"><text x="808.5" y="4972.5">Art Groups Fear Losing a Mayor, and His Money</text></g>
<g id="n249"><text x="808.5" y="4992.5">Paying Till It Hurts: American Way of Birth, Costliest in the World</text></g>
<g id="n250"><text x="844.5" y="5012.5">The world's craziest, messiest festivals</text></g>
<g id="n251"><text x="844.5" y="5032.5">How climate impacts food supply</text></g>
<g id="n252"><text x="849" y="5052.5">How trees must adapt to drought</text></g>
<g id="n253"><text x="909.5" y="5072.5">Geologist tastes prehistoric water</text></g>
<g id="n254"><text x="909.5" y="5092.5">For gays, progress stunning, fast</text></g>
<g id="n255"><text x="916.5" y="5112.5">Confederations Cup: 5 things we learned</text></g>
<g id="n256"><text x="916.5" y="5132.5">Ice melt speeding up, study finds</text></g>
<g id="n257"><text x="283.5" y="5152.5">DealBook: Winklevoss Twins Plan First Fund for Bitcoins</text></g>
<g id="n258"><text x="319.5" y="5172.5">India bans lingerie mannequins?</text></g>
<g id="n259"><text x="319.5" y="5192.5">Mumbai to ban racy mannequins</text></g>
<g id="n260"><text x="345.5" y="5212.5">India Ink: Image of the Day: July 2</text></g>
<g id="n261"><text x="345.5" y="5232.5">India Ink: Why Does the Rashtriya Swayamsevak Sangh Resent Cricket?</text></g>
<g id="n262"><text x="323.5" y="5252.5">Deadline pleases anti-Morsy camp</text></g>
<g id="n263"><text x="362" y="5272.5">Who is Mohamed Morsy?</text></g>
<g id="n264"><text x="397" y="5292.5">Exclusive: Egypt army plan would scrap constitution, parliament - sources</text></g>
<g id="n265"><text x="426" y="5312.5">Egypt protesters mass before military deadline</text></g>
<g id="n266"><text x="454.5" y="5332.5">Foreign Minister Quits as Egypt Braces for Further Protests</text></g>
<g id="n267"><text x="534.5" y="5352.5">Young Activists Rouse Egypt Protests but Leave Next Steps to Public</text></g>
<g id="n268"><text x="534.5" y="5372.5">Egyptians vs. Morsy</text></g>
<g id="n269"><text x="538" y="5392.5">Egypt rages, but what's the new plan?</text></g>
<g id="n270"><text x="538" y="5412.5">With Egypt in limbo, schools suffer</text></g>
<g id="n271"><text x="536.5" y="5432.5">Tick tock: Deadline looms for Egypt's Morsy - CNN International</text></g>
<g id="n272"><text x="536.5" y="5452.5">Deadline looms for Egypt's Morsy</text></g>
<g id="n273"><text x="561" y="5472.5">Egypt protesters: Resign or we march on palace</text></g>
<g id="n274"><text x="561" y="5492.5">Q&amp;A: Egypt on the brink</text></g>
<g id="n275"><text x="563.5" y="5512.5">The Lede: Latest Updates on Egypt?s Political Crisis</text></g>
<g id="n276"><text x="583.5" y="5532.5">Egypt on the edge after Mursi rebuffs army ultimatum</text></g>
<g id="n277"><text x="583.5" y="5552.5">The Lede: Egyptians React to Army?s Ultimatum</text></g>
<g id="n278"><text x="376.5" y="5572.5">iPad-run yacht: Is this the future?</text></g>
<g id="n279"><text x="408.5" y="5592.5">Meet the Wendy Davis truthers</text></g>
<g id="n280"><text x="408.5" y="5612.5">China magnate who's richer than Trump</text></g>
<g id="n281"><text x="454.5" y="5632.5">Watch Bill O?Reilly freak out over the gay marriage rulings</text></g>
<g id="n282"><text x="483.5" y="5652.5">Manhattan Apartment Sales Increase Despite Reduced Inventory</text></g>
<g id="n283"><text x="483.5" y="5672.5">Gay and lesbian couples flock to California courts to wed</text></g>
<g id="n284"><text x="456" y="5692.5">Romney voted against presidential run in family poll</text></g>
<g id="n285"><text x="485.5" y="5712.5">Tennis: Lisicki into Wimbledon semi</text></g>
<g id="n286"><text x="512" y="5732.5">Five states see new antiabortion laws go into effect</text></g>
<g id="n287"><text x="512" y="5752.5">Sports car veers into spectators</text></g>
<g id="n288"><text x="424.5" y="5772.5">Federal judge approves challenge to Michigan ban on gay marriage</text></g>
<g id="n289"><text x="449" y="5792.5">San Francisco area rail strike causes traffic nightmare</text></g>
<g id="n290"><text x="464.5" y="5812.5">SF Bay area transit strike snarls commute again</text></g>
<g id="n291"><text x="464.5" y="5832.5">BART strike slams San Francisco economy</text></g>
<g id="n292"><text x="270.5" y="5852.5">AIDS-free generation 'within sight'</text></g>
<g id="n293"><text x="270.5" y="5872.5">S. Africa's 'Born Free' generation</text></g>
<g id="n294"><text x="285.5" y="5892.5">Media's royal baby watch heats up</text></g>
<g id="n295"><text x="285.5" y="5912.5">Media watch heats up</text></g>
<g id="n296"><text x="320.5" y="5932.5">Prince or princess?</text></g>
<g id="n297"><text x="351.5" y="5952.5">Baby goes for a swim</text></g>
<g id="n298"><text x="351.5" y="5972.5">How to win trust of baby ape</text></g>
<g id="n299"><text x="270.5" y="5992.5">Palestinian wins 'Arab Idol'</text></g>
<g id="n300"><text x="290" y="6012.5">Palestinian Killed by Israeli Forces</text></g>
<g id="n301"><text x="290" y="6032.5">Israeli forces 'kill Palestinian man'</text></g>
<g id="n302"><text x="332.5" y="6052.5">Western U.S. seared by heat</text></g>
<g id="n303"><text x="361" y="6072.5">Haitian slum builds 'Garden of Eden'</text></g>
<g id="n304"><text x="361" y="6092.5">Cousteau meets wetland wildlife</text></g>
<g id="n305"><text x="381.5" y="6112.5">French far-right chief Le Pen loses immunity over racism case</text></g>
<g id="n306"><text x="381.5" y="6132.5">French far-right chief Le Pen loses immunity</text></g>
<g id="n307"><text x="421.5" y="6152.5">Entrepreneurs bid adieu to France</text></g>
<g id="n308"><text x="421.5" y="6172.5">Chinese lap up French vineyards</text></g>
<g id="n309"><text x="425.5" y="6192.5">New species excites 'twitchers'</text></g>
<g id="n310"><text x="425.5" y="6212.5">A wedding amid the tear gas</text></g>
<g id="n311"><text x="466" y="6232.5">Opinion: U.S. spying 'out of control'</text></g>
<g id="n312"><text x="466" y="6252.5">U.S. spying is out of control</text></g>
<g id="n313"><text x="473.5" y="6272.5">Infighting kills top Somali militant</text></g>
<g id="n314"><text x="514.5" y="6292.5">University at Buffalo charged pro-life student group $650 in 'unconstitutional fees,' lawsuit alleges</text></g>
<g id="n315"><text x="551" y="6312.5">New planets might support life</text></g>
<g id="n316"><text x="584.5" y="6332.5">Special delivery for Baby Noor</text></g>
<g id="n317"><text x="584.5" y="6352.5">Street life seen through kids' eyes</text></g>
<g id="n318"><text x="261" y="6372.5">Rocket crash strains Russia's troubled space program - Christian Science Monitor</text></g>
<g id="n319"><text x="272.5" y="6392.5">Russian Rocket Crashes in Kazakhstan</text></g>
<g id="n320"><text x="286" y="6412.5">Watch rocket break up after liftoff</text></g>
<g id="n321"><text x="286" y="6432.5">Watch Russian rocket explode</text></g>
<g id="n322"><text x="293" y="6452.5">Russian rocket explodes after liftoff</text></g>
<g id="n323"><text x="293" y="6472.5">Russia rocket blast</text></g>
<g id="n324"><text x="293" y="6492.5">Russian rocket explodes on liftoff</text></g>
<g id="n325"><text x="293" y="6512.5">Unmanned Russian rocket explodes after liftoff</text></g>
<g id="n326"><text x="381" y="6532.5">Town grieves Ariz. Hotshots; storms threaten fire</text></g>
<g id="n327"><text x="381" y="6552.5">Town grieves Ariz. Hotshots; storms threaten fire - Atlanta Journal Constitution</text></g>
<g id="n328"><text x="382.5" y="6572.5">Ariz. Hotshots included jokesters, fathers-to-be</text></g>
<g id="n329"><text x="382.5" y="6592.5">Arizona Hotshots lived the meaning of the word</text></g>
<g id="n330"><text x="362.5" y="6612.5">Military to aid U.S. wildfire fight</text></g>
<g id="n331"><text x="394.5" y="6632.5">Elite U.S. firefighter squad mourned</text></g>
<g id="n332"><text x="414.5" y="6652.5">Firefighters look for weather break in deadly Arizona wildfire</text></g>
<g id="n333"><text x="414.5" y="6672.5">Deadly fire engulfed 19 Arizona firefighters in seconds</text></g>
<g id="n334"><text x="416.5" y="6692.5">Mass. DA seeks public's help in Hernandez case</text></g>
<g id="n335"><text x="440.5" y="6712.5">Aaron Hernandez moved to new cell, called a model inmate</text></g>
<g id="n336"><text x="440.5" y="6732.5">Third suspect in killing of Aaron Hernandez's friend to be extradited</text></g>
<g id="n337"><text x="470.5" y="6752.5">Dozens charged in Ga. Alzheimer's home abuse case - Montana Standard</text></g>
<g id="n338"><text x="510.5" y="6772.5">Suspect arrested in nanny cam beating case pleads not guilty</text></g>
<g id="n339"><text x="510.5" y="6792.5">Berlusconi found guilty, gets 7 years</text></g>
<g id="n340"><text x="517" y="6812.5">Will Fox News change with America?</text></g>
<g id="n341"><text x="551" y="6832.5">Gabrielle Giffords kicks off gun control campaign by shooting at firing range - CBS News</text></g>
<g id="n342"><text x="551" y="6852.5">Heir for a new century?</text></g>
<g id="n343"><text x="557" y="6872.5">Economic inequality was created</text></g>
<g id="n344"><text x="557" y="6892.5">Ancient primate may be missing link</text></g>
<g id="n345"><text x="606" y="6912.5">Donut hybrid conquers Big Apple</text></g>
<g id="n346"><text x="607.5" y="6932.5">The 'Cronut' conquers NYC</text></g>
<g id="n347"><text x="607.5" y="6952.5">Cronuts</text></g>
<g id="n348"><text x="640.5" y="6972.5">Pals of mom in pot case help in $500,000 bail</text></g>
<g id="n349"><text x="675.5" y="6992.5">New York judge rejects sex abuse lawsuits against Elmo puppeteer</text></g>
<g id="n350"><text x="678.5" y="7012.5">Living the high life in New York</text></g>
<g id="n351"><text x="678.5" y="7032.5">Living the high life in New York City</text></g>
<g id="n352"><text x="603" y="7052.5">Remains in wall ID'd as NY woman missing since '85 - Wall Street Journal</text></g>
<g id="n353"><text x="622" y="7072.5">Brother of Senator Mark Udall missing in Wyoming</text></g>
<g id="n354"><text x="637.5" y="7092.5">Sen. Mark Udall's brother Randy missing - New York Daily News</text></g>
<g id="n355"><text x="637.5" y="7112.5">Brother of Colorado Sen. Mark Udall missing in Rocky Mountains</text></g>
<g id="n356"><text x="424.5" y="7132.5">Can Zimmerman win over jurors?</text></g>
<g id="n357"><text x="451.5" y="7152.5">Love or hate her, witness is a star</text></g>
<g id="n358"><text x="476" y="7172.5">Jurors hear Zimmerman's account of killing Trayvon Martin</text></g>
<g id="n359"><text x="499.5" y="7192.5">Zimmerman trial judge tells jury to ignore detective's description</text></g>
<g id="n360"><text x="522.5" y="7212.5">Pal testifies that Zimmerman said Martin grabbed his gun - Fox News</text></g>
<g id="n361"><text x="522.5" y="7232.5">Lead detective returns to stand, says Zimmerman's story remained consistent</text></g>
<g id="n362"><text x="479.5" y="7252.5">Panel to Review Up to 50 Trial Convictions Involving a Discredited Detective</text></g>
<g id="n363"><text x="479.5" y="7272.5">Empty plane seat mocks media</text></g>
<g id="n364"><text x="482.5" y="7292.5">Spinning statue stumps museum</text></g>
<g id="n365"><text x="504.5" y="7312.5">'I'm not a welfare mom, I'm a soldier'</text></g>
<g id="n366"><text x="504.5" y="7332.5">Pregnant and homeless: The real cost</text></g>
</g>
</svg>
